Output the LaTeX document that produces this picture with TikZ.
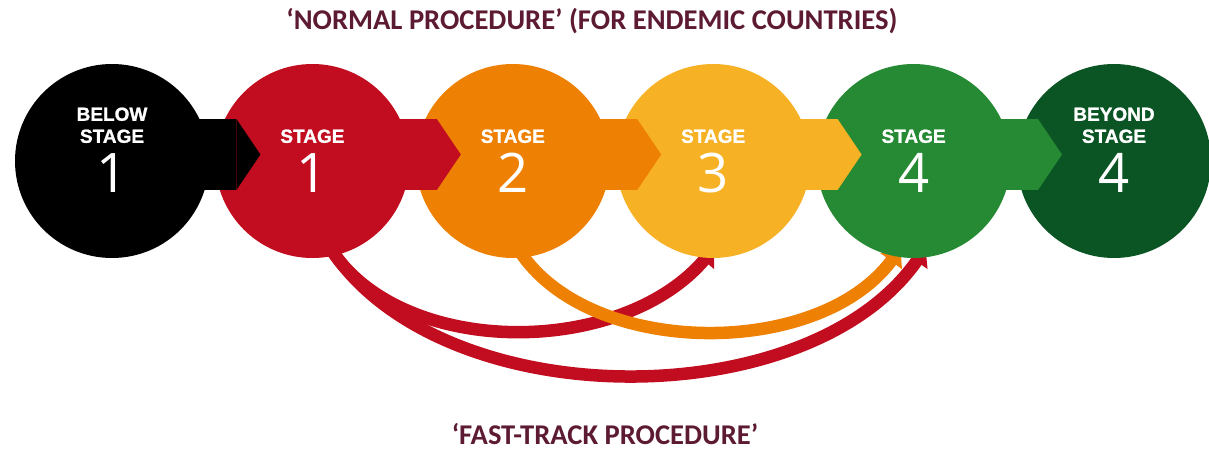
\documentclass[tikz,border=0pt]{standalone}
\usepackage{fontspec}
\usetikzlibrary{positioning,calc,arrows.meta}
\newfontfamily\headfont{Carlito}
\newfontfamily\capfont{Liberation Sans}[FakeBold=1.2]
\newfontfamily\numfont{Open Sans}
\definecolor{StageRed}{HTML}{C10D1F}
\definecolor{StageOrange}{HTML}{EE8104}
\definecolor{StageYellow}{HTML}{F6B125}
\definecolor{StageGreen}{HTML}{258A33}
\definecolor{StageDark}{HTML}{0B5424}
\definecolor{HeadMaroon}{HTML}{5D1A33}
\pgfdeclarelayer{back}
\pgfsetlayers{back,main}
\tikzstyle{StageCircle}=[circle, minimum size=194pt, inner sep=0pt]
\tikzstyle{StageCaption}=[text=white, font=\capfont\bfseries\fontsize{19}{22}\selectfont, align=center, inner sep=0pt, text depth=0pt, anchor=south]
\tikzstyle{StageNumber}=[text=white, font=\numfont\fontsize{54.5}{60}\selectfont, inner sep=0pt, text depth=0pt, anchor=south]
\tikzstyle{Chevron}=[line width=71pt, -{Triangle[length=24pt, width=71pt, line width=0pt]}]
\tikzstyle{FastTrack}=[line width=12.5pt, -{Triangle[length=16pt, width=26pt]}]
\tikzstyle{Heading}=[text=HeadMaroon, font=\headfont\bfseries\fontsize{28.6}{32}\selectfont, inner sep=1pt]

\begin{document}
\begin{tikzpicture}[x=1pt, y=1pt]
	\useasboundingbox (0,0) rectangle (1209,451);

	%Nodos
	\node[StageCircle, fill=black]			(below)							at (112,290)	{};
	\node[StageCircle, fill=StageRed]		(stage1)	[right=6pt of below]		{};
	\node[StageCircle, fill=StageOrange]	(stage2)	[right=6pt of stage1]		{};
	\node[StageCircle, fill=StageYellow]	(stage3)	[right=6pt of stage2]		{};
	\node[StageCircle, fill=StageGreen]		(stage4)	[right=6pt of stage3]		{};
	\node[StageCircle, fill=StageDark]		(beyond)	[right=6pt of stage4]		{};

	\node[Heading]	(normal)	at (592,430)	{‘NORMAL PROCEDURE’ (FOR ENDEMIC COUNTRIES)};
	\node[Heading]	(fast)		at (605,17)		{‘FAST-TRACK PROCEDURE’};

	%Flechas normales
	\draw[Chevron, black]		($(below)+(40,6.5)$)	-- ($(stage1)+(-52,6.5)$);
	\draw[Chevron, StageRed]	($(stage1)+(40,6.5)$)	-- ($(stage2)+(-52,6.5)$);
	\draw[Chevron, StageOrange]	($(stage2)+(40,6.5)$)	-- ($(stage3)+(-52,6.5)$);
	\draw[Chevron, StageYellow]	($(stage3)+(40,6.5)$)	-- ($(stage4)+(-52,6.5)$);
	\draw[Chevron, StageGreen]	($(stage4)+(40,6.5)$)	-- ($(beyond)+(-52,6.5)$);

	%Textos
	\node[StageCaption]	at ($(below)+(0,18)$)	{BELOW\\STAGE};
	\node[StageNumber]	at ($(below)+(0,-32)$)	{1};
	\node[StageCaption]	at ($(stage1)+(0,18)$)	{STAGE};
	\node[StageNumber]	at ($(stage1)+(0,-32)$)	{1};
	\node[StageCaption]	at ($(stage2)+(0,18)$)	{STAGE};
	\node[StageNumber]	at ($(stage2)+(0,-32)$)	{2};
	\node[StageCaption]	at ($(stage3)+(0,18)$)	{STAGE};
	\node[StageNumber]	at ($(stage3)+(0,-32)$)	{3};
	\node[StageCaption]	at ($(stage4)+(0,18)$)	{STAGE};
	\node[StageNumber]	at ($(stage4)+(0,-32)$)	{4};
	\node[StageCaption]	at ($(beyond)+(0,18)$)	{BEYOND\\STAGE};
	\node[StageNumber]	at ($(beyond)+(0,-32)$)	{4};

	%Flechas rapidas
	\begin{pgfonlayer}{back}
		\draw[FastTrack, StageRed]		($(stage1.south)+(18,10)$) .. controls +(110,-169) and +(-118,-169) .. ($(stage4.south)+(12,10)$);
		\draw[FastTrack, StageRed]		($(stage1.south)+(18,10)$) .. controls +(70,-110) and +(-94,-110) .. ($(stage3.south)+(1,10)$);
		\draw[FastTrack, StageOrange]	($(stage2.south)+(5,10)$) .. controls +(68,-110) and +(-83,-112) .. ($(stage4.south)+(-13,10)$);
	\end{pgfonlayer}

\end{tikzpicture}
\end{document}
